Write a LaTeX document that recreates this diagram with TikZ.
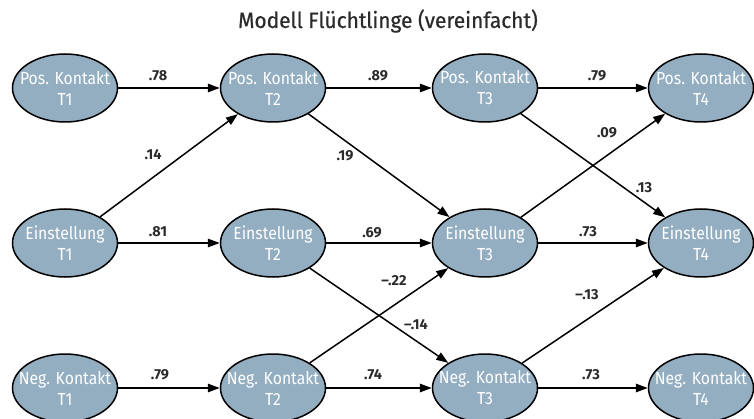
\documentclass[tikz,border=0pt]{standalone}
\usepackage{fontspec}
\setmainfont{Fira Sans}
\newfontfamily\nodefont{Fira Sans}[FakeStretch=0.9,Ligatures=TeX]
\newfontfamily\labfont{Fira Sans}[Ligatures=TeX]
\newfontfamily\titlefont{Fira Sans}[FakeBold=0.6,FakeStretch=0.95]
\usetikzlibrary{arrows.meta,shapes.geometric}
\definecolor{nodefill}{HTML}{93ADC1}
\definecolor{labgray}{HTML}{2B2B2B}
\newcommand{\twoline}[2]{\makebox[0pt]{#1}\\#2}
\begin{document}
\begin{tikzpicture}[x=1pt,y=-1pt,
  var/.style={ellipse,draw=black,line width=1.5pt,fill=nodefill,minimum width=105pt,minimum height=68pt,inner sep=0pt,
    align=center,text=white,font=\nodefont\fontsize{17.5}{21}\selectfont},
  path/.style={draw=black,line width=1.5pt,-{Triangle[length=12pt,width=8.5pt]}},
  lab/.style={text=labgray,font=\labfont\bfseries\fontsize{14.5}{16}\selectfont,inner sep=0pt}]
\useasboundingbox (0,0) rectangle (754,419);
\node[text=labgray,font=\titlefont\fontsize{22}{24}\selectfont] (title) at (388,21) {Modell Flüchtlinge (vereinfacht)};
% row 1
\node[var] (P1) at (65,88) {\twoline{Pos. Kontakt}{T1}};
\node[var] (P2) at (273,88) {\twoline{Pos. Kontakt}{T2}};
\node[var] (P3) at (485,88) {\twoline{Pos. Kontakt}{T3}};
\node[var] (P4) at (701,88) {\twoline{Pos. Kontakt}{T4}};
% row 2
\node[var] (E1) at (65,243) {\twoline{Einstellung}{T1}};
\node[var] (E2) at (273,243) {\twoline{Einstellung}{T2}};
\node[var] (E3) at (485,243) {\twoline{Einstellung}{T3}};
\node[var] (E4) at (701,243) {\twoline{Einstellung}{T4}};
% row 3
\node[var] (N1) at (65,388) {\twoline{Neg. Kontakt}{T1}};
\node[var] (N2) at (273,388) {\twoline{Neg. Kontakt}{T2}};
\node[var] (N3) at (485,388) {\twoline{Neg. Kontakt}{T3}};
\node[var] (N4) at (701,388) {\twoline{Neg. Kontakt}{T4}};
% edges
\draw[path] (P1) -- (P2);
\draw[path] (P2) -- (P3);
\draw[path] (P3) -- (P4);
\draw[path] (E1) -- (P2);
\draw[path] (E1) -- (E2);
\draw[path] (E2) -- (E3);
\draw[path] (E3) -- (E4);
\draw[path] (P2) -- (E3);
\draw[path] (P3) -- (E4);
\draw[path] (E3) -- (P4);
\draw[path] (N2) -- (E3);
\draw[path] (E2) -- (N3);
\draw[path] (N3) -- (E4);
\draw[path] (N1) -- (N2);
\draw[path] (N2) -- (N3);
\draw[path] (N3) -- (N4);
% labels
\node[lab] (l1) at (158,76) {.78};
\node[lab] (l2) at (378,76) {.89};
\node[lab] (l3) at (597,76) {.79};
\node[lab] (l4) at (153,155) {.14};
\node[lab] (l5) at (345,156) {.19};
\node[lab] (l6) at (607,133) {.09};
\node[lab] (l7) at (644,188) {.13};
\node[lab] (l8) at (158,232) {.81};
\node[lab] (l9) at (372,233) {.69};
\node[lab] (l10) at (588,232) {.73};
\node[lab] (l11) at (394,281) {--.22};
\node[lab] (l12) at (416,325) {--.14};
\node[lab] (l13) at (587,295) {--.13};
\node[lab] (l14) at (160,375) {.79};
\node[lab] (l15) at (373,375) {.74};
\node[lab] (l16) at (591,375) {.73};
\end{tikzpicture}
\end{document}
